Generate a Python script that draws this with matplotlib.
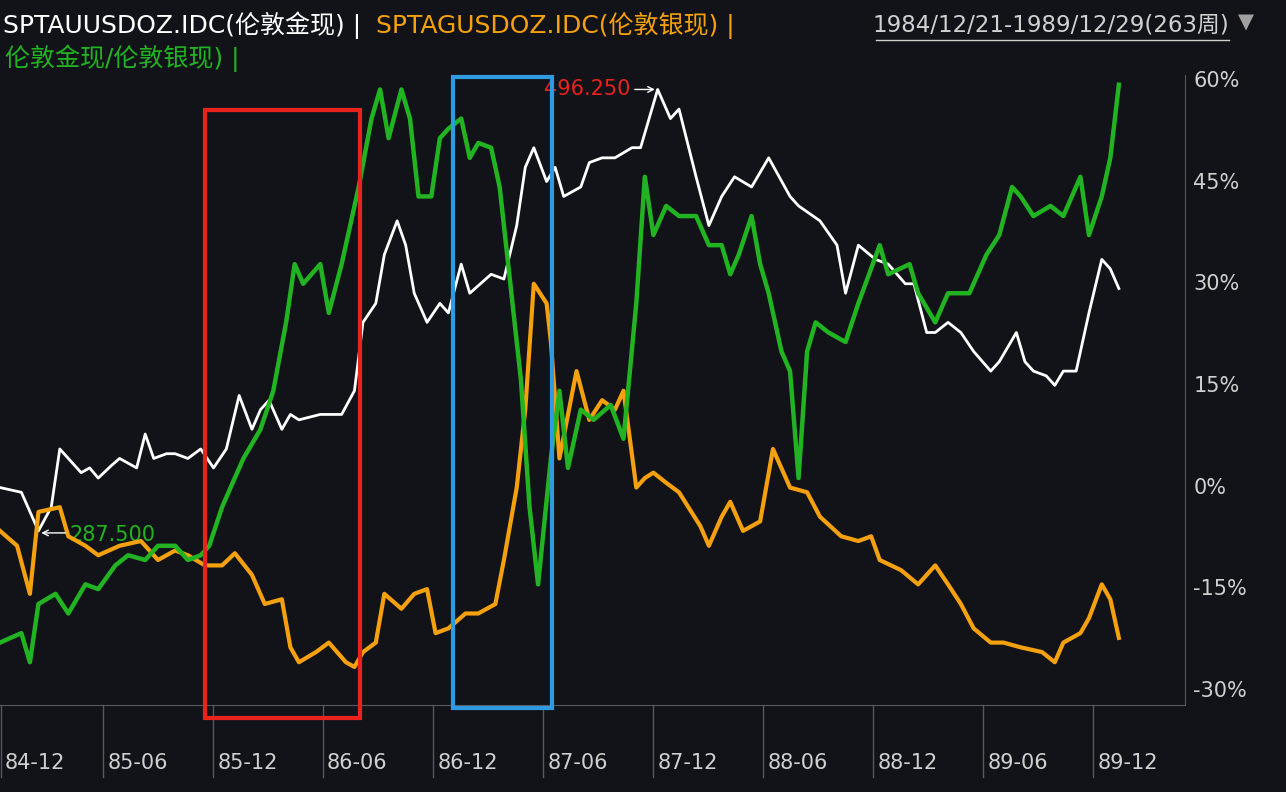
import matplotlib
matplotlib.use("Agg")
import matplotlib.pyplot as plt
from matplotlib.patches import Rectangle

plt.rcParams['font.family'] = ['DejaVu Sans', 'Noto Sans CJK SC']

gold_w = [0,5,9,12,14,16,19,21,23,26,28,32,34,36,39,41,44,47,50,53,56,59,61,63,66,68,70,75,80,83,85,88,90,93,95,97,100,103,105,108,110,115,118,121,123,125,128,130,132,136,138,141,144,148,150,152,154,157,159,163,166,169,172,176,180,185,187,192,196,198,201,205,208,212,214,217,219,222,225,228,232,234,238,240,242,245,247,249,252,255,258,260,262]
gold_v = [-0.3,-1.0,-6.7,-3.2,5.4,4.0,1.9,2.6,1.1,2.9,4.0,2.6,7.6,4.0,4.7,4.7,4.0,5.4,2.6,5.4,13.3,8.3,11.2,12.6,8.3,10.5,9.7,10.5,10.5,14.0,24.1,26.9,34.1,39.1,35.5,28.4,24.1,26.9,25.5,32.7,28.4,31.2,30.5,38.4,47.0,49.9,44.9,47.0,42.7,44.1,47.7,48.4,48.4,49.9,49.9,54.2,58.5,54.2,55.6,45.6,38.4,42.7,45.6,44.1,48.4,42.7,41.3,39.1,35.5,28.4,35.5,33.4,32.7,29.8,29.8,22.6,22.6,24.1,22.6,19.8,16.9,18.3,22.6,18.3,16.9,16.2,14.8,16.9,16.9,25.5,33.4,32.0,29.1]

silver_w = [0,4,7,9,14,16,20,23,28,33,37,41,44,48,52,55,59,62,66,68,70,74,77,81,83,85,88,90,94,97,100,102,105,109,112,116,118,121,123,125,128,129,131,135,138,141,144,146,149,151,153,156,159,164,166,169,171,174,178,181,185,189,192,197,201,204,206,211,215,219,222,225,228,232,235,239,244,247,249,253,255,258,260,262]
silver_v = [-6.7,-8.9,-16.0,-3.9,-3.2,-7.5,-8.9,-10.3,-8.9,-8.2,-11.0,-9.6,-10.3,-11.8,-11.8,-10.0,-13.2,-17.5,-16.8,-23.9,-26.1,-24.6,-23.2,-26.1,-26.8,-24.6,-23.2,-16.0,-18.2,-16.0,-15.3,-21.8,-21.1,-18.9,-18.9,-17.5,-11.0,-0.3,11.2,29.8,26.9,21.2,4.0,16.9,9.7,12.6,11.2,14.0,-0.3,1.1,1.9,0.4,-1.0,-6.0,-8.9,-4.6,-2.4,-6.7,-5.3,5.4,-0.3,-1.0,-4.6,-7.5,-8.2,-7.5,-11.0,-12.5,-14.6,-11.8,-14.6,-17.5,-21.1,-23.2,-23.2,-23.9,-24.6,-26.1,-23.2,-21.8,-19.6,-14.6,-16.8,-22.5]

ratio_w = [0,5,7,9,13,16,20,23,27,30,34,37,41,44,47,49,52,54,57,61,64,67,69,71,75,77,80,82,84,87,89,91,94,96,98,101,103,105,108,110,112,115,117,119,122,124,126,129,131,133,136,139,143,146,149,151,153,156,159,163,166,169,171,173,176,178,180,183,185,187,189,191,194,198,201,206,208,213,215,219,222,227,231,234,237,239,242,246,249,253,255,258,260,262]
ratio_v = [-23.2,-21.8,-26.1,-17.5,-16.0,-18.9,-14.6,-15.3,-11.8,-10.3,-11.0,-8.9,-8.9,-11.0,-10.3,-8.9,-3.2,-0.3,4.0,8.3,14.0,24.1,32.7,29.8,32.7,25.5,32.7,38.4,44.1,54.2,58.5,51.3,58.5,54.2,42.7,42.7,51.3,52.7,54.2,48.4,50.6,49.9,44.1,32.7,15.5,-3.2,-14.6,4.0,14.0,2.6,11.2,9.7,11.9,6.9,26.9,45.6,37.0,41.3,39.8,39.8,35.5,35.5,31.2,34.1,39.8,32.7,28.4,19.8,16.9,1.1,19.8,24.1,22.6,21.2,26.9,35.5,31.2,32.7,28.4,24.1,28.4,28.4,34.1,37.0,44.1,42.7,39.8,41.3,39.8,45.6,37.0,42.7,48.4,59.2]

ytick_vals = [60, 45, 30, 15, 0, -15, -30]
xtick_labels = ['84-12','85-06','85-12','86-06','86-12','87-06','87-12','88-06','88-12','89-06','89-12']
xtick_weeks = [0.2,24.1,49.9,75.6,101.4,127.2,152.9,178.7,204.4,230.2,256.0]

BG = '#111318'
fig = plt.figure(figsize=(12.86, 7.92), dpi=100, facecolor=BG)
ax = fig.add_axes([0, 0.110, 0.9215, 0.795], facecolor=BG)
ax.set_xlim(0, 277.5)
ax.set_ylim(-32.4, 60.6)

ax.plot(gold_w, gold_v, color='white', lw=2.0, zorder=3)
ax.plot(silver_w, silver_v, color='#f5a10f', lw=3.0, zorder=3)
ax.plot(ratio_w, ratio_v, color='#22b322', lw=3.2, zorder=4)

ax.add_patch(Rectangle((48, -34.4), 36.3, 89.8, fill=False, ec='#e8231e', lw=3,
                       clip_on=False, zorder=5))
ax.add_patch(Rectangle((106, -32.9), 23.2, 93.2, fill=False, ec='#2f9ae0', lw=3,
                       clip_on=False, zorder=5))

ax.annotate('', xy=(154, 58.5), xytext=(148, 58.5),
            arrowprops=dict(arrowstyle='->', color='white', lw=1))
ax.text(147.5, 58.5, '496.250', color='#e8231e', fontsize=15, ha='right', va='center')
ax.annotate('', xy=(9, -7.0), xytext=(16, -7.0),
            arrowprops=dict(arrowstyle='->', color='white', lw=1))
ax.text(16.3, -7.3, '287.500', color='#22b322', fontsize=15, ha='left', va='center', zorder=2)

for s in ['top', 'left']:
    ax.spines[s].set_visible(False)
ax.spines['bottom'].set_color('#55585e')
ax.spines['right'].set_color('#55585e')
ax.set_xticks([])
ax.yaxis.tick_right()
ax.set_yticks(ytick_vals)
ax.set_yticklabels([f'{v}%' for v in ytick_vals], color='#d0d0d0', fontsize=15)
ax.tick_params(axis='y', length=0, pad=6)

for w, lab in zip(xtick_weeks, xtick_labels):
    ax.plot([w, w], [-32.4, -43], color='#55585e', lw=1, clip_on=False)
    ax.text(w + 1.0, -41.0, lab, color='#d0d0d0', fontsize=15, ha='left', va='center')

fig.text(0.002, 0.968, 'SPTAUUSDOZ.IDC(伦敦金现) |', color='white', fontsize=18, va='center')
fig.text(0.2925, 0.968, 'SPTAGUSDOZ.IDC(伦敦银现) |', color='#f5a10f', fontsize=18, va='center')
fig.text(0.004, 0.926, '伦敦金现/伦敦银现) |', color='#22b322', fontsize=18, va='center')
fig.text(0.956, 0.968, '1984/12/21-1989/12/29(263周)', color='#d0d0d0', fontsize=16.5,
         va='center', ha='right')
fig.lines.append(plt.Line2D([0.681, 0.956], [0.950, 0.950], color='#d0d0d0', lw=1,
                            transform=fig.transFigure))
fig.text(0.969, 0.972, '▼', color='#a0a0a0', fontsize=15, va='center', ha='center')

fig.savefig('out.png', dpi=100, facecolor=BG)
